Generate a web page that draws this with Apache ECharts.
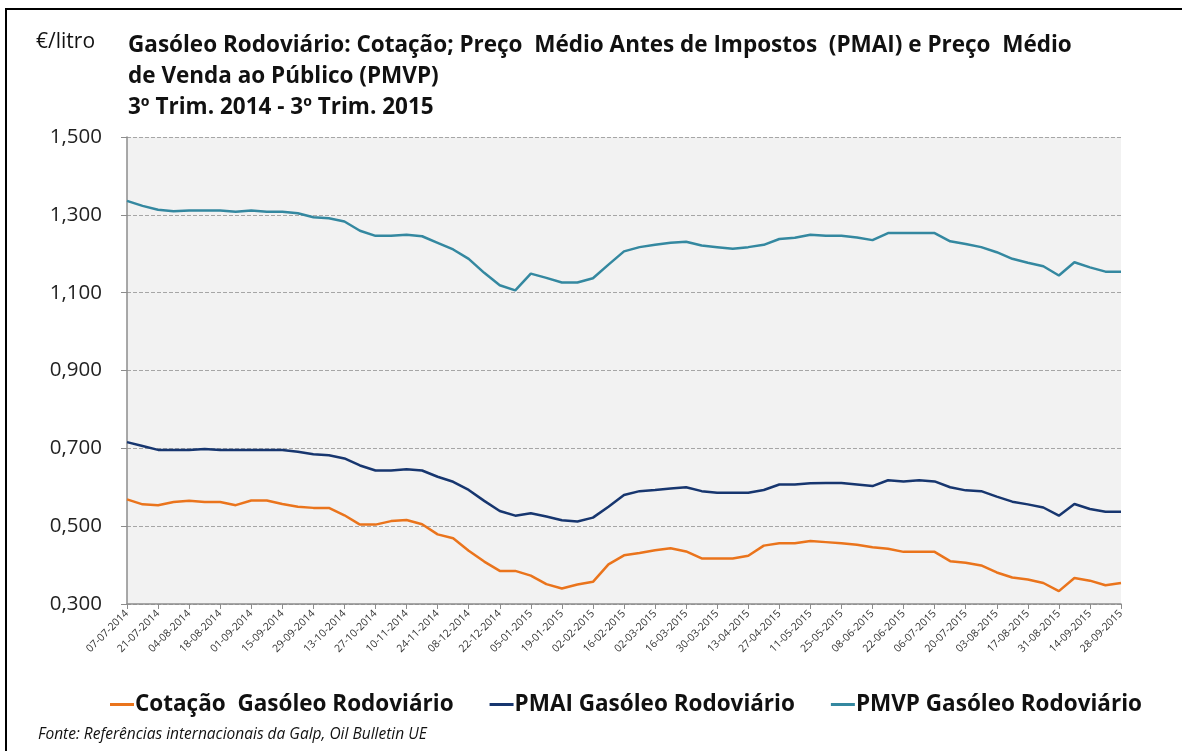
<!DOCTYPE html>
<html>
<head>
<meta charset="utf-8">
<script src="https://cdn.jsdelivr.net/npm/echarts@6/dist/echarts.min.js"></script>
<style>
  html, body { margin: 0; padding: 0; background: #fff; }
  #chart { width: 1182px; height: 751px; }
</style>
</head>
<body>
<div id="chart"></div>
<script>
// semanas (segunda-feira) de 07-07-2014 a 28-09-2015
const dates = [
  '07-07-2014', '14-07-2014', '21-07-2014', '28-07-2014', '04-08-2014', '11-08-2014',
  '18-08-2014', '25-08-2014', '01-09-2014', '08-09-2014', '15-09-2014', '22-09-2014',
  '29-09-2014', '06-10-2014', '13-10-2014', '20-10-2014', '27-10-2014', '03-11-2014',
  '10-11-2014', '17-11-2014', '24-11-2014', '01-12-2014', '08-12-2014', '15-12-2014',
  '22-12-2014', '29-12-2014', '05-01-2015', '12-01-2015', '19-01-2015', '26-01-2015',
  '02-02-2015', '09-02-2015', '16-02-2015', '23-02-2015', '02-03-2015', '09-03-2015',
  '16-03-2015', '23-03-2015', '30-03-2015', '06-04-2015', '13-04-2015', '20-04-2015',
  '27-04-2015', '04-05-2015', '11-05-2015', '18-05-2015', '25-05-2015', '01-06-2015',
  '08-06-2015', '15-06-2015', '22-06-2015', '29-06-2015', '06-07-2015', '13-07-2015',
  '20-07-2015', '27-07-2015', '03-08-2015', '10-08-2015', '17-08-2015', '24-08-2015',
  '31-08-2015', '07-09-2015', '14-09-2015', '21-09-2015', '28-09-2015'
]

const cotacao = [
  0.569, 0.556, 0.554, 0.562, 0.565, 0.562, 0.562, 0.554, 0.566, 0.566,
  0.557, 0.550, 0.547, 0.547, 0.528, 0.504, 0.504, 0.513, 0.516, 0.505,
  0.479, 0.469, 0.437, 0.409, 0.385, 0.385, 0.373, 0.351, 0.340, 0.350,
  0.357, 0.402, 0.425, 0.431, 0.438, 0.443, 0.435, 0.417, 0.417, 0.417,
  0.424, 0.450, 0.456, 0.456, 0.462, 0.459, 0.456, 0.452, 0.446, 0.442,
  0.434, 0.434, 0.434, 0.410, 0.406, 0.399, 0.381, 0.368, 0.363, 0.354,
  0.333, 0.367, 0.360, 0.348, 0.354
]

const pmai = [
  0.716, 0.706, 0.696, 0.696, 0.696, 0.698, 0.696, 0.696, 0.696, 0.696,
  0.696, 0.691, 0.685, 0.682, 0.674, 0.656, 0.643, 0.643, 0.646, 0.643,
  0.627, 0.614, 0.593, 0.565, 0.539, 0.527, 0.533, 0.525, 0.515, 0.512,
  0.522, 0.550, 0.580, 0.590, 0.593, 0.597, 0.600, 0.590, 0.586, 0.586,
  0.586, 0.593, 0.607, 0.607, 0.610, 0.611, 0.611, 0.607, 0.603, 0.618,
  0.615, 0.618, 0.615, 0.600, 0.592, 0.590, 0.576, 0.563, 0.556, 0.548,
  0.527, 0.557, 0.544, 0.537, 0.537
]

const pmvp = [
  1.336, 1.323, 1.313, 1.309, 1.311, 1.311, 1.311, 1.308, 1.311, 1.308,
  1.308, 1.304, 1.294, 1.291, 1.283, 1.259, 1.246, 1.246, 1.249, 1.245,
  1.228, 1.211, 1.187, 1.151, 1.119, 1.106, 1.149, 1.138, 1.126, 1.126,
  1.137, 1.172, 1.206, 1.217, 1.223, 1.228, 1.231, 1.221, 1.217, 1.213,
  1.217, 1.223, 1.238, 1.241, 1.249, 1.246, 1.246, 1.242, 1.235, 1.253,
  1.253, 1.253, 1.253, 1.232, 1.225, 1.217, 1.204, 1.187, 1.177, 1.168,
  1.144, 1.178, 1.165, 1.154, 1.154
]

const seriesNames = [
  'Cotação  Gasóleo Rodoviário',
  'PMAI Gasóleo Rodoviário',
  'PMVP Gasóleo Rodoviário'
]
const colors = ['#ea741c', '#17366f', '#3488a0']

const font = '"Open Sans", Lato, sans-serif'
const chart = echarts.init(document.getElementById('chart'))

const option = {
  animation: false,
  color: colors,
  title: {
    text: 'Gasóleo Rodoviário: Cotação; Preço  Médio Antes de Impostos  (PMAI) e Preço  Médio\nde Venda ao Público (PMVP)\n3º Trim. 2014 - 3º Trim. 2015',
    left: 128,
    top: 30,
    padding: 0,
    textStyle: {
      fontFamily: font,
      fontSize: 22.5,
      fontWeight: 'bold',
      color: '#111',
      lineHeight: 31
    }
  },
  graphic: [
    {
      type: 'rect',
      shape: { x: 6, y: 9, width: 1300, height: 900 },
      style: { fill: 'none', stroke: '#000', lineWidth: 2 },
      silent: true
    },
    {
      type: 'text',
      left: 36,
      top: 32,
      style: { text: '€/litro', font: '21px ' + font, fill: '#111' }
    },
    {
      type: 'text',
      left: 38,
      top: 727,
      style: {
        text: 'Fonte: Referências internacionais da Galp, Oil Bulletin UE',
        font: 'italic 15.5px ' + font,
        fill: '#111'
      }
    }
  ],
  legend: {
    data: seriesNames,
    left: 105,
    top: 688,
    icon: 'rect',
    itemWidth: 24,
    itemHeight: 3,
    itemGap: 36,
    textStyle: {
      fontFamily: font,
      fontSize: 22.5,
      fontWeight: 'bold',
      color: '#111',
      padding: [0, 0, 0, -4]
    }
  },
  grid: {
    left: 127,
    right: 61,
    top: 137,
    bottom: 147,
    show: true,
    backgroundColor: '#f2f2f2',
    borderWidth: 0
  },
  xAxis: {
    type: 'category',
    data: dates,
    boundaryGap: false,
    axisLine: { lineStyle: { color: '#8c8c8c', width: 1.5 } },
    axisTick: { interval: 1, length: 5, lineStyle: { color: '#8c8c8c' } },
    axisLabel: {
      interval: 1,
      rotate: 45,
      fontFamily: font,
      fontSize: 10.5,
      color: '#333',
      margin: 8
    },
    splitLine: { show: false }
  },
  yAxis: {
    type: 'value',
    min: 0.3,
    max: 1.5,
    interval: 0.2,
    axisLine: { show: true, lineStyle: { color: '#8c8c8c', width: 1.5 } },
    axisTick: { show: true, length: 6, lineStyle: { color: '#8c8c8c' } },
    axisLabel: {
      fontFamily: font,
      fontSize: 20.5,
      color: '#222',
      margin: 25,
      formatter: v => v.toFixed(3).replace('.', ',')
    },
    splitLine: { lineStyle: { color: '#a6a6a6', type: [4, 2], width: 1 } }
  },
  series: [
    { name: seriesNames[0], type: 'line', data: cotacao, symbol: 'none', lineStyle: { width: 2.5 } },
    { name: seriesNames[1], type: 'line', data: pmai, symbol: 'none', lineStyle: { width: 2.5 } },
    { name: seriesNames[2], type: 'line', data: pmvp, symbol: 'none', lineStyle: { width: 2.5 } }
  ]
}

chart.setOption(option)
</script>
</body>
</html>
